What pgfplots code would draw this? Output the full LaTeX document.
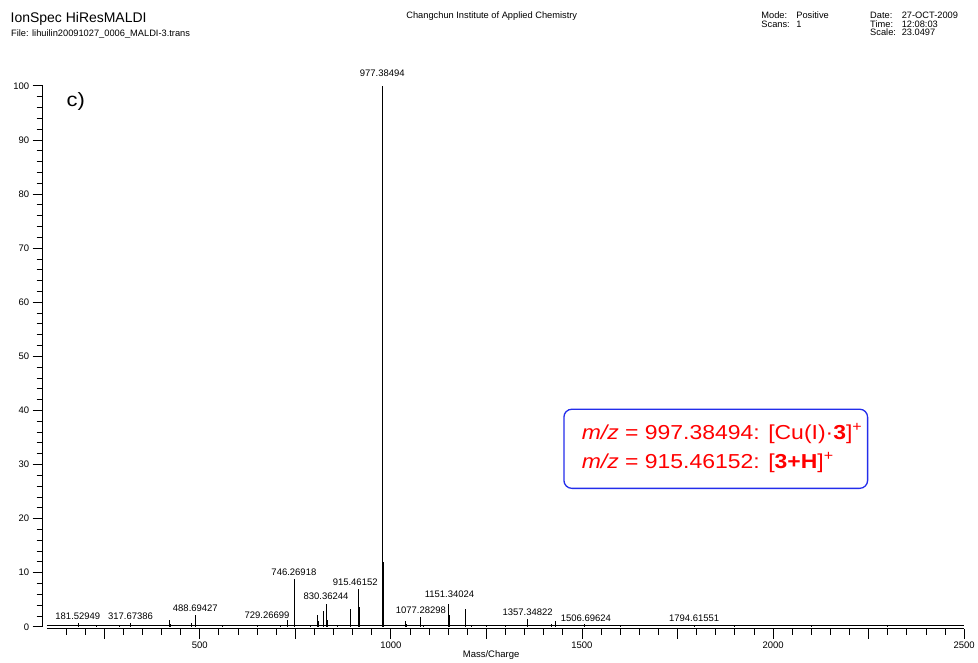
\documentclass[border=0pt]{standalone}
\usepackage{pgfplots}
\pgfplotsset{compat=1.18}
\usepackage{fontspec}
\setmainfont{Liberation Sans}

\definecolor{annred}{RGB}{255,0,0}
\definecolor{boxblue}{RGB}{35,45,235}

% stick spectrum: m/z, relative intensity
\pgfplotstableread{
mz      int
181.53  0.7
230     0.4
290     0.4
317.67  0.7
421     1.3
423     0.6
478     0.7
488.69  2.1
489.69  1.0
560     0.3
650     0.3
712     0.4
729.27  1.2
746.27  8.9
747.27  4.9
748.27  1.5
790     0.4
808.5   2.1
809.5   1.0
822.3   3.0
823.3   1.5
830.36  4.3
831.36  2.3
834.5   1.2
860     0.3
893.9   3.3
894.9   1.8
915.46  6.9
916.46  3.6
917.46  1.0
977.38  100
978.39  72
979.39  12
980.40  3
1039    1.0
1040    0.6
1077.28 1.8
1078.28 0.9
1084    0.4
1151.34 4.2
1152.34 2.1
1153.34 0.7
1193.8  3.2
1194.8  2.0
1195.8  0.8
1212    0.4
1250    0.3
1300    0.3
1357.35 1.5
1358.35 0.8
1420    0.5
1431    1.0
1506.70 0.6
1600    0.3
1794.62 0.4
1900    0.3
2100    0.3
2300    0.3
}\spectrum

\begin{document}
\begin{tikzpicture}
\begin{scope}[x=1pt,y=1pt]
\useasboundingbox (0,0) rectangle (978,-661);
% run header
\node[anchor=base west, inner sep=0, font=\fontsize{14}{16}\selectfont] at (10.5,-22.7) {IonSpec HiResMALDI};
\node[anchor=base west, inner sep=0, font=\fontsize{9.3}{10}\selectfont] at (11,-37) {File: lihuilin20091027\_0006\_MALDI-3.trans};
\node[anchor=base, inner sep=0, font=\fontsize{9.3}{10}\selectfont] at (492.7,-18.3) {Changchun Institute of Applied Chemistry};
\begin{scope}[font=\fontsize{9.3}{10}\selectfont]
\node[anchor=base west, inner sep=0] at (762.7,-18.8) {Mode:};
\node[anchor=base west, inner sep=0] at (797.7,-18.8) {Positive};
\node[anchor=base west, inner sep=0] at (762.7,-27.8) {Scans:};
\node[anchor=base west, inner sep=0] at (797.7,-27.8) {1};
\node[anchor=base west, inner sep=0] at (871.7,-18.6) {Date:};
\node[anchor=base west, inner sep=0] at (903.3,-18.6) {27-OCT-2009};
\node[anchor=base west, inner sep=0] at (871.7,-27.3) {Time:};
\node[anchor=base west, inner sep=0] at (903.3,-27.3) {12:08:03};
\node[anchor=base west, inner sep=0] at (871.7,-36) {Scale:};
\node[anchor=base west, inner sep=0] at (903.3,-36) {23.0497};
\end{scope}
\end{scope}

\begin{axis}[
  at={(47pt,-628pt)}, anchor=south west,
  scale only axis, width=919pt, height=542pt,
  xmin=100, xmax=2500, ymin=0, ymax=100,
  axis x line*=bottom, axis y line*=left,
  axis x line shift=2pt, axis y line shift=4.3pt,
  axis line style={line width=0.9pt},
  tick align=outside,
  major tick length=10pt, minor tick length=6pt,
  tick style={black, line width=0.8pt},
  xtick={500,1000,1500,2000,2500},
  extra x ticks={250,750,1250,1750,2250},
  extra x tick labels={},
  minor xtick={150,200,...,2450},
  ytick={0,10,...,100},
  minor ytick={2,4,...,98},
  tick label style={font=\fontsize{9.5}{10}\selectfont},
  /pgf/number format/assume math mode=true,
  /pgf/number format/set thousands separator={},
  xlabel={Mass/Charge},
  xlabel style={at={(axis description cs:0.4843,0)}, anchor=center, yshift=-28pt, font=\fontsize{9.5}{10}\selectfont},
  clip=false,
]
\addplot[black, line width=0.6pt] coordinates {(100,0.25) (2500,0.25)};
\addplot[ycomb, black, line width=0.8pt, no marks] table[x=mz, y=int] {\spectrum};

% peak annotations
\begin{scope}[every node/.style={anchor=south, inner sep=0pt, font=\fontsize{9.5}{10}\selectfont}]
\node at (axis cs:977.4,101.7) {977.38494};
\node at (axis cs:746.27,9.48) {746.26918};
\node at (axis cs:906.6,7.64) {915.46152};
\node at (axis cs:830.4,4.98) {830.36244};
\node at (axis cs:488.4,2.84) {488.69427};
\node at (axis cs:675.9,1.48) {729.26699};
\node at (axis cs:181,1.35) {181.52949};
\node at (axis cs:318.9,1.35) {317.67386};
\node at (axis cs:1078.4,2.4) {1077.28298};
\node at (axis cs:1153.4,5.3) {1151.34024};
\node at (axis cs:1357.9,2.08) {1357.34822};
\node at (axis cs:1510.3,0.98) {1506.69624};
\node at (axis cs:1793.6,0.98) {1794.61551};
\end{scope}
\end{axis}

\begin{scope}[x=1pt,y=1pt]
\node[anchor=center, inner sep=0, font=\fontsize{22}{24}\selectfont, yscale=0.88] at (76,-102) {c)};
\draw[boxblue, line width=1.3pt, rounded corners=8pt] (565,-410) rectangle (869.3,-489.3);
\begin{scope}[font=\fontsize{23}{26}\selectfont, text=annred]
\node[anchor=base west, inner sep=0, yscale=0.88] at (582.7,-440.6) {\textit{m/z} = 997.38494: [Cu(I)·\textbf{3}]\textsuperscript{+}};
\node[anchor=base west, inner sep=0, yscale=0.88] at (582.7,-469) {\textit{m/z} = 915.46152: [\textbf{3+H}]\textsuperscript{+}};
\end{scope}
\end{scope}
\end{tikzpicture}
\end{document}
